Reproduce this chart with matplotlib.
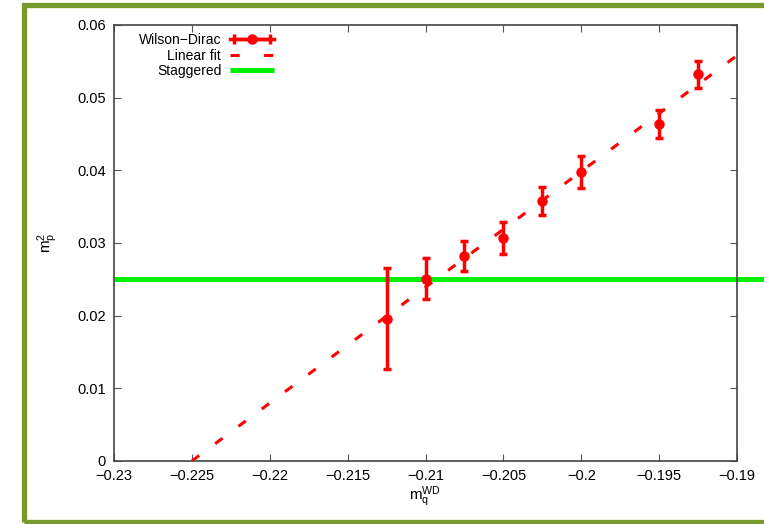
import matplotlib
matplotlib.use("Agg")
import matplotlib.pyplot as plt
from matplotlib.lines import Line2D
from matplotlib.patches import Rectangle
from matplotlib.legend_handler import HandlerLine2D, HandlerTuple

plt.rcParams["font.family"] = ["Liberation Sans", "DejaVu Sans"]
plt.rcParams["font.size"] = 10.5
plt.rcParams["mathtext.fontset"] = "custom"
plt.rcParams["mathtext.rm"] = "Liberation Sans"
plt.rcParams["mathtext.it"] = "Liberation Sans"

# Wilson-Dirac pion mass squared vs bare quark mass
mq_wd = [-0.2125, -0.2100, -0.2075, -0.2050, -0.2025, -0.2000, -0.1950, -0.1925]
mpi2 = [0.0196, 0.0251, 0.0282, 0.0307, 0.0358, 0.0398, 0.0464, 0.0532]
mpi2_err = [0.0070, 0.0028, 0.0021, 0.0022, 0.0019, 0.0022, 0.0019, 0.0019]

# linear fit end points
fit_x = [-0.2250, -0.1900]
fit_y = [0.0, 0.0558]

# staggered value
stag_y = 0.025
stag_x = [-0.2300, -0.18827]

xticks = [-0.23, -0.225, -0.22, -0.215, -0.21, -0.205, -0.2, -0.195, -0.19]
xtick_labels = ["\u22120.23", "\u22120.225", "\u22120.22", "\u22120.215", "\u22120.21",
                "\u22120.205", "\u22120.2", "\u22120.195", "\u22120.19"]
yticks = [0, 0.01, 0.02, 0.03, 0.04, 0.05, 0.06]
ytick_labels = ["0", "0.01", "0.02", "0.03", "0.04", "0.05", "0.06"]

RED = "#ff0000"
GREEN = "#00f000"
BORDER = "#789a2d"

fig = plt.figure(figsize=(7.64, 5.24), dpi=100)
ax = fig.add_axes([114 / 764, 63 / 524, 623 / 764, 436 / 524])

ax.errorbar(mq_wd, mpi2, yerr=mpi2_err, fmt="o", color=RED, ms=6.5,
            elinewidth=2.5, capsize=2.6, capthick=2.5, zorder=4)
ax.plot(fit_x, fit_y, color=RED, lw=2.2, dashes=(3, 6.5), zorder=3)
ax.plot(stag_x, [stag_y, stag_y], color=GREEN, lw=3.6, clip_on=False,
        solid_capstyle="butt", zorder=2)

ax.set_xlim(-0.23, -0.19)
ax.set_ylim(0, 0.06)
ax.set_xticks(xticks)
ax.set_xticklabels(xtick_labels)
ax.set_yticks(yticks)
ax.set_yticklabels(ytick_labels)
ax.tick_params(direction="in", length=5, width=0.8, color="#555555",
               top=True, right=True, pad=6)
for s in ax.spines.values():
    s.set_color("#444444")
    s.set_linewidth(1.2)

ax.set_xlabel(r"$\mathregular{m_q^{WD}}$", labelpad=1, fontsize=11)
ax.set_ylabel(r"$\mathregular{m_p^2}$", labelpad=12, fontsize=11)

# legend handles in gnuplot style
h_bar = Line2D([], [], color=RED, lw=2.5, marker="|", ms=7, mew=2.5)
h_dot = Line2D([], [], color=RED, lw=2.5, marker="o", ms=6.5)
h_fit = Line2D([], [], color=RED, lw=2.2, dashes=(3, 8))
h_stag = Line2D([], [], color=GREEN, lw=3.6, solid_capstyle="butt")
leg = ax.legend([(h_bar, h_dot), h_fit, h_stag],
                ["Wilson\u2212Dirac", "Linear fit", "Staggered"],
                handler_map={h_bar: HandlerLine2D(numpoints=2),
                             h_dot: HandlerLine2D(numpoints=1),
                             tuple: HandlerTuple(ndivide=1)},
                loc="upper right", bbox_to_anchor=(160 / 623, (461 - 33) / 436),
                frameon=False, markerfirst=False, borderpad=0, borderaxespad=0,
                handlelength=3.2, handletextpad=0.6, labelspacing=0.12,
                fontsize=10)

# olive frame around the picture
fig.patches.append(Rectangle((24 / 764, 2 / 524), 1.0, 517.5 / 524,
                             transform=fig.transFigure, fill=False,
                             edgecolor=BORDER, lw=3.8, zorder=0))

fig.savefig("out.png", dpi=100)
